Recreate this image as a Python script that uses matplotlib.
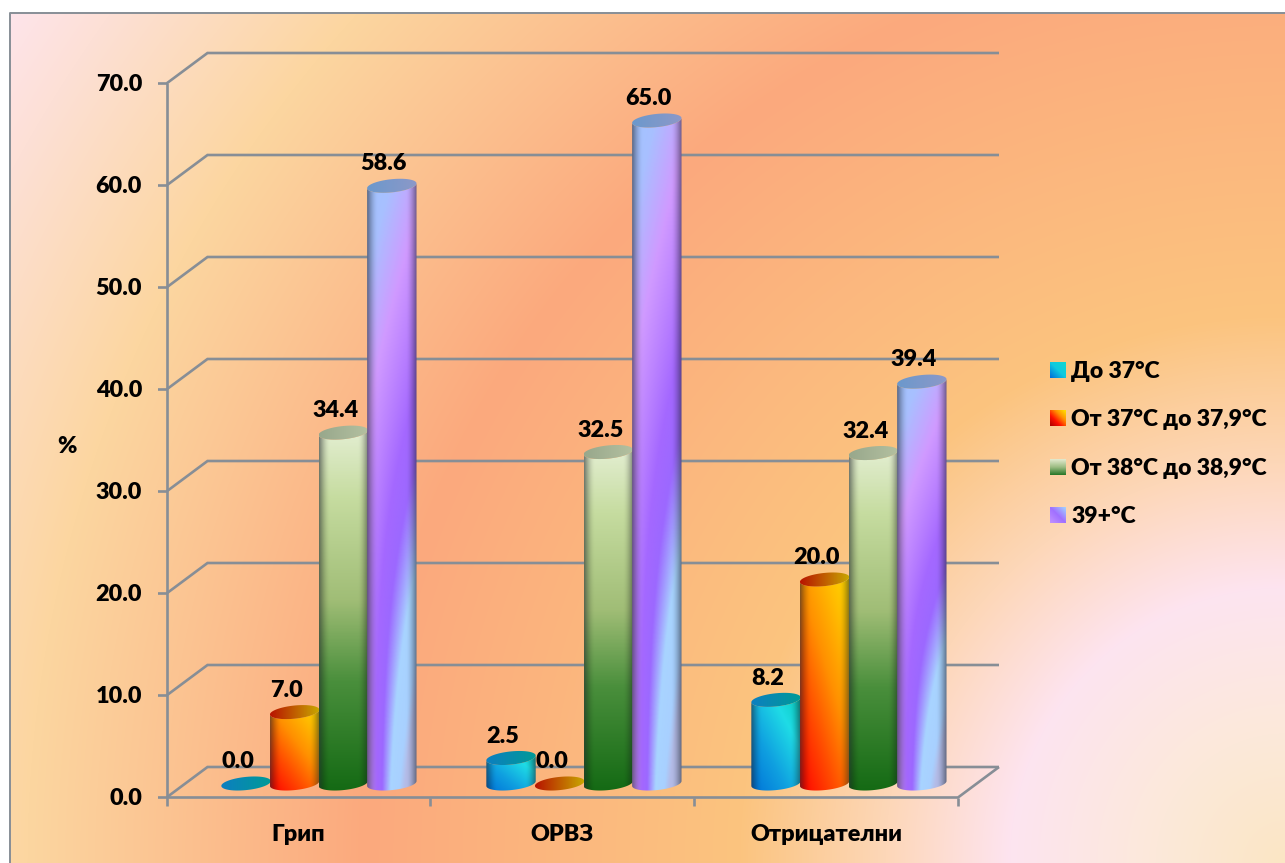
import numpy as np
import matplotlib
matplotlib.use("Agg")
import matplotlib.pyplot as plt
from matplotlib.colors import LinearSegmentedColormap, to_rgb
from matplotlib.path import Path
from matplotlib.patches import PathPatch, Rectangle

# ---- data ---------------------------------------------------------------
categories = ["Грип", "ОРВЗ", "Отрицателни"]
series_names = ["До 37°C", "От 37°C до 37,9°C", "От 38°C до 38,9°C", "39+°C"]
below_37 = [0.0, 2.5, 8.2]
from_37 = [7.0, 0.0, 20.0]
from_38 = [34.4, 32.5, 32.4]
above_39 = [58.6, 65.0, 39.4]
y_ticks = [0, 10, 20, 30, 40, 50, 60, 70]

# ---- layout (pixels on the 1285x863 canvas) -------------------------------
W, H = 1285, 863
X0, X1 = 166.5, 958.0      # front floor edge
Y0, Y70 = 797.5, 83.5      # value axis
DEPTH_X, DEPTH_Y = 41.0, 30.5
PX_PER_CAT = (X1 - X0) / 3
PX_PER_UNIT = (Y0 - Y70) / 70
GRID = "#878e96"
FONT = "Lato"
WEIGHT = "heavy"
FS = 16.8
TEXT_DROP = 1.2 / PX_PER_UNIT

fig = plt.figure(figsize=(W / 100, H / 100), dpi=100, facecolor="white")
ax = fig.add_axes([0, 0, 1, 1])
xlim = (-X0 / PX_PER_CAT, (W - X0) / PX_PER_CAT)
ylim = ((Y0 - H) / PX_PER_UNIT, Y0 / PX_PER_UNIT)
ax.set_axis_off()


def cmap(*stops):
    return LinearSegmentedColormap.from_list("g", list(stops), N=256)


# ---- slide background: radial fill centred on the lower right corner ------
yy, xx = np.mgrid[0:H, 0:W]
r = np.hypot(W - xx, H - yy)
bg_r = [0, 130, 275, 400, 545, 920, 1258, 1450, 1560]
bg_c = ["#fbe6c4", "#fce9da", "#fde4f0", "#fdd7b8", "#fbc47f", "#fba97d",
        "#fcd6a0", "#fde0d6", "#fee6f2"]
bg_rgb = np.array([to_rgb(c) for c in bg_c])
bg = np.dstack([np.interp(r, bg_r, bg_rgb[:, k]) for k in range(3)])
ax.imshow(bg, extent=(xlim[0], xlim[1], ylim[0], ylim[1]), aspect="auto",
          origin="upper", zorder=0, interpolation="bilinear")
# white margin and grey frame of the chart area
ax.add_patch(Rectangle((xlim[0], ylim[0]), 10 / PX_PER_CAT, ylim[1] - ylim[0],
                       fc="white", ec="none", zorder=0.5))
ax.add_patch(Rectangle((xlim[0], (Y0 - 13) / PX_PER_UNIT), xlim[1] - xlim[0],
                       13 / PX_PER_UNIT, fc="white", ec="none", zorder=0.5))
ax.plot([xlim[0] + 10 / PX_PER_CAT, xlim[0] + 10 / PX_PER_CAT, xlim[1]],
        [ylim[0], (Y0 - 13) / PX_PER_UNIT, (Y0 - 13) / PX_PER_UNIT],
        color=GRID, lw=1.4, zorder=0.6, solid_capstyle="butt")

# ---- 3-D frame: walls, floor and ticks -------------------------------------
dx, dy = DEPTH_X / PX_PER_CAT, DEPTH_Y / PX_PER_UNIT
tick_x = 8.5 / PX_PER_CAT
line = dict(color=GRID, lw=1.9, zorder=1, solid_capstyle="butt", solid_joinstyle="miter")
for v in y_ticks:
    ax.plot([-tick_x, 0, dx, 3 + dx], [v, v, v + dy, v + dy], **line)
    ax.text(-24.5 / PX_PER_CAT, v - TEXT_DROP, f"{v:.1f}", ha="right", va="center",
            family=FONT, weight=WEIGHT, fontsize=FS, color="black", zorder=6)
ax.plot([0, 0], [0, 70], **line)
ax.plot([0, 3, 3 + dx], [0, 0, dy], **line)
for i in range(4):
    ax.plot([i, i], [0, -8 / PX_PER_UNIT], **line)
for i, name in enumerate(categories):
    ax.text(i + 0.5, -36 / PX_PER_UNIT - TEXT_DROP, name, ha="center", va="center",
            family=FONT, weight=WEIGHT, fontsize=FS, color="black")
ax.text(-100 / PX_PER_CAT, 34.4, "%", ha="center", va="center",
        family=FONT, weight=WEIGHT, fontsize=FS, color="black")


# ---- gradient fills for the cylinders ---------------------------------------
def side_shade(u):
    """Darkening towards both silhouette edges of a cylinder (u in 0..1)."""
    e = np.abs(2 * u - 1)
    return 1 - 0.55 * np.clip((e - 0.55) / 0.45, 0, 1) ** 2.0


def body_texture(style, height_px):
    rows = max(int(height_px) + 12, 6)
    v, u = np.mgrid[0:1:rows * 1j, 0:1:49j]   # v = 0 at the top row
    if style == 0:
        m = np.clip(0.5 * (1 - v) + 0.5 * u * 0.9, 0, 1)
        c = cmap("#0072d8", "#0f9fe0", "#1fdce6", "#00c4ae")(m)
    elif style == 1:
        m = np.clip((1 - v) * 0.58 + u * 0.42, 0, 1)
        c = cmap((0, "#ff0000"), (0.3, "#ff4c00"), (0.55, "#ff9000"),
                 (0.8, "#ffbe00"), (1, "#ffdc00"))(m)
    elif style == 2:
        c = cmap((0, "#146a14"), (0.3, "#4a8f3c"), (0.52, "#a0bd76"),
                 (0.8, "#c6dca0"), (1, "#e6f0d6"))(1 - v)
    else:
        # slanted bands whose slope steepens towards the foot of the bar
        k = 0.3 + 1.3 * v ** 3
        m = np.clip((v + k * (u - 0.5) + 0.2) / 1.6, 0, 1)
        c = cmap((0, "#9fc6ff"), (0.125, "#a8c0ff"), (0.256, "#d09aff"),
                 (0.45, "#a468ff"), (0.55, "#9c68ff"), (0.72, "#a8d4ff"),
                 (0.9, "#a8d0ff"), (1, "#b4bce8"))(m)
    shade = side_shade(u)[..., None]
    rgb = c[..., :3] * shade + (1 - shade) * np.array([0.25, 0.28, 0.35]) * (1 - shade)
    return np.clip(rgb, 0, 1)


def cap_texture(style):
    v, u = np.mgrid[0:1:8j, 0:1:49j]
    ends = [("#0d7fc0", "#009a98"), ("#b81400", "#c8a800"),
            ("#98a88c", "#b4c0a0"), ("#6c98cc", "#8c98c8")][style]
    return cmap(*ends)(u)[..., :3]


def arc(cx, cy, a, b, sk, th):
    return cx + a * np.cos(th), cy + b * np.sin(th) + sk * np.cos(th)


BAR_W = 48.6 / PX_PER_CAT
BAR_DX = 20.5 / PX_PER_CAT
BAR_DY = 14.0 / PX_PER_UNIT
GROUP_STEP = 265.0 / PX_PER_CAT
ELL_B = 6.6 / PX_PER_UNIT
ELL_SK = 2.4 / PX_PER_UNIT


def cylinder(cx, value, style):
    a = BAR_W / 2 + 0.4 / PX_PER_CAT
    base = BAR_DY
    top = value + BAR_DY
    z = 2 + style * 0.01
    lo = np.linspace(np.pi, 2 * np.pi, 40)   # lower half: left to right
    if value > 0:
        bx, by = arc(cx, base, a, ELL_B, ELL_SK, lo)
        tx, ty = arc(cx, top, a, ELL_B, ELL_SK, lo[::-1])
        verts = np.r_[np.c_[bx, by], np.c_[tx, ty], [[bx[0], by[0]]]]
        codes = [Path.MOVETO] + [Path.LINETO] * (len(verts) - 2) + [Path.CLOSEPOLY]
        clip = PathPatch(Path(verts, codes), transform=ax.transData, fc="none", ec="none")
        ax.add_patch(clip)
        y_lo = base - ELL_B - ELL_SK
        y_hi = top + ELL_B + ELL_SK
        im = ax.imshow(body_texture(style, value * PX_PER_UNIT),
                       extent=(cx - a, cx + a, y_lo, y_hi), aspect="auto",
                       origin="upper", zorder=z, interpolation="bilinear")
        im.set_clip_path(clip)
    th = np.linspace(0, 2 * np.pi, 80)
    ex, ey = arc(cx, top, a, ELL_B, ELL_SK, th)
    verts = np.c_[ex, ey]
    codes = [Path.MOVETO] + [Path.LINETO] * (len(verts) - 2) + [Path.CLOSEPOLY]
    clip = PathPatch(Path(verts, codes), transform=ax.transData, fc="none", ec="none")
    ax.add_patch(clip)
    im = ax.imshow(cap_texture(style),
                   extent=(cx - a, cx + a, top - 2 * ELL_B, top + 2 * ELL_B),
                   aspect="auto", origin="upper", zorder=z + 0.005,
                   interpolation="bilinear")
    im.set_clip_path(clip)
    ax.text(cx - 8 / PX_PER_CAT, top + 23 / PX_PER_UNIT - TEXT_DROP, f"{value:.1f}",
            ha="center", va="center", family=FONT, weight=WEIGHT, fontsize=FS,
            color="black", zorder=6)


all_series = [below_37, from_37, from_38, above_39]
for i in range(len(categories)):
    for j, series in enumerate(all_series):
        cylinder(0.5 + i * GROUP_STEP + (j - 1.5) * BAR_W + BAR_DX, series[i], j)

# ---- legend -----------------------------------------------------------------
legend_y = [370.0, 418.5, 467.0, 515.0]
swatch_cmaps = [
    cmap("#0070d8", "#10c8e0", "#10d8d0"),
    cmap("#b00000", "#ff1000", "#ff9000", "#ffe000"),
    cmap("#2c7a2c", "#9dbd84", "#e0e8cc"),
    cmap("#c090ff", "#a070ff", "#a0d0ff"),
]
S = 15.5
for k, name in enumerate(series_names):
    yc = (Y0 - legend_y[k]) / PX_PER_UNIT
    xl = (1050 - X0) / PX_PER_CAT
    v, u = np.mgrid[0:1:16j, 0:1:16j]
    m = [(u + (1 - v)) / 2, (u + (1 - v)) / 2, 1 - v, 1 - np.clip((v + (1 - u)) / 2, 0, 1)][k]
    ax.imshow(swatch_cmaps[k](m)[..., :3],
              extent=(xl, xl + S / PX_PER_CAT, yc - S / 2 / PX_PER_UNIT, yc + S / 2 / PX_PER_UNIT),
              aspect="auto", origin="upper", zorder=3, interpolation="bilinear")
    ax.text((1071 - X0) / PX_PER_CAT, yc - TEXT_DROP, name, ha="left", va="center",
            family=FONT, weight=WEIGHT, fontsize=FS - 0.3, color="black", zorder=6)

ax.set_xlim(xlim)
ax.set_ylim(ylim)
fig.savefig("out.png", dpi=100)
